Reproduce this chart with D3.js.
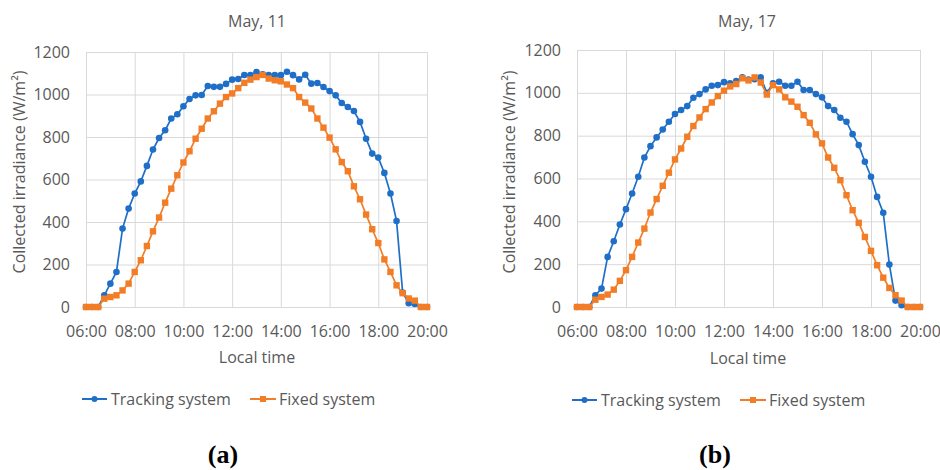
<!DOCTYPE html>
<html>
<head>
<meta charset="utf-8">
<script src="https://cdn.jsdelivr.net/npm/d3@7"></script>
<style>
    body { margin: 0; background: #fff; }
    svg text { font-family: "Open Sans", sans-serif; fill: #595959; }
</style>
</head>
<body>
<svg id="chart" width="940" height="470"></svg>
<script>
// Local time, every 15 minutes
const times = [
    "06:00", "06:15", "06:30", "06:45", "07:00", "07:15", "07:30", "07:45",
    "08:00", "08:15", "08:30", "08:45", "09:00", "09:15", "09:30", "09:45",
    "10:00", "10:15", "10:30", "10:45", "11:00", "11:15", "11:30", "11:45",
    "12:00", "12:15", "12:30", "12:45", "13:00", "13:15", "13:30", "13:45",
    "14:00", "14:15", "14:30", "14:45", "15:00", "15:15", "15:30", "15:45",
    "16:00", "16:15", "16:30", "16:45", "17:00", "17:15", "17:30", "17:45",
    "18:00", "18:15", "18:30", "18:45", "19:00", "19:15", "19:30", "19:45",
    "20:00"
];
const timeTicks = ["06:00", "08:00", "10:00", "12:00", "14:00", "16:00", "18:00", "20:00"];
const yTicks = [0, 200, 400, 600, 800, 1000, 1200];

// May, 11 (W/m2)
const trackingMay11 = [
    0, 0, 0, 55, 110, 165, 369, 463, 534, 591, 664, 741, 795, 832, 887, 907,
    945, 979, 996, 998, 1040, 1036, 1036, 1050, 1070, 1073, 1092, 1092, 1106, 1095, 1091, 1091,
    1091, 1107, 1091, 1071, 1093, 1051, 1054, 1035, 1016, 996, 960, 941, 922, 871, 792, 722,
    703, 631, 534, 405, 68, 18, 14, 0, 0
];
const fixedMay11 = [
    0, 0, 0, 39, 47, 55, 78, 110, 165, 220, 287, 356, 421, 491, 557, 620,
    680, 733, 792, 839, 887, 921, 957, 988, 1005, 1030, 1055, 1070, 1082, 1092, 1075, 1067,
    1062, 1047, 1030, 988, 962, 934, 887, 844, 797, 742, 682, 639, 568, 507, 435, 366,
    301, 224, 165, 102, 65, 40, 30, 0, 0
];

// May, 17 (W/m2)
const trackingMay17 = [
    0, 0, 0, 55, 86, 234, 307, 385, 457, 530, 608, 698, 751, 792, 829, 865,
    901, 920, 938, 977, 994, 1016, 1033, 1036, 1050, 1045, 1055, 1072, 1062, 1064, 1072, 1000,
    1045, 1052, 1033, 1033, 1052, 1013, 1013, 994, 979, 938, 920, 884, 865, 807, 756, 678,
    608, 514, 440, 198, 30, 8, 0, 0, 0
];
const fixedMay17 = [
    0, 0, 0, 34, 47, 58, 81, 122, 172, 234, 301, 366, 441, 504, 566, 627,
    689, 740, 795, 845, 885, 924, 955, 985, 1010, 1030, 1041, 1068, 1058, 1072, 1048, 992,
    1036, 1016, 979, 959, 935, 896, 860, 806, 764, 698, 650, 592, 522, 452, 393, 327,
    262, 195, 137, 89, 55, 30, 0, 0, 0
];

const seriesNames = ["Tracking system", "Fixed system"];
const blue = "#1f6fc8";
const orange = "#f27d26";
const gridColor = "#d9d9d9";

const svg = d3.select("#chart");

function drawPanel(p, tracking, fixed) {
    const x = d3.scalePoint().domain(times).range([p.left, p.right]);
    const y = d3.scaleLinear().domain([0, 1200]).range([p.bottom, p.top]);
    const g = svg.append("g");

    // Horizontal gridlines and y ticks
    g.append("g")
        .attr("transform", `translate(${p.left},0)`)
        .call(d3.axisLeft(y).tickValues(yTicks).tickFormat(d3.format("d"))
            .tickSize(-(p.right - p.left)).tickPadding(16))
        .call(a => a.select(".domain").remove())
        .call(a => a.selectAll("line").attr("stroke", gridColor))
        .call(a => a.selectAll("text").style("font-size", "16px").attr("fill", "#595959"));

    // Vertical gridlines and time ticks
    g.append("g")
        .attr("transform", `translate(0,${p.bottom})`)
        .call(d3.axisBottom(x).tickValues(timeTicks).tickSize(-(p.bottom - p.top)).tickPadding(19))
        .call(a => a.select(".domain").remove())
        .call(a => a.selectAll("line").attr("stroke", gridColor))
        .call(a => a.selectAll("text").style("font-size", "16px").attr("fill", "#595959"));

    const line = d3.line()
        .x((d, i) => x(times[i]))
        .y(d => y(d));

    // Tracking system
    g.append("path")
        .datum(tracking)
        .attr("fill", "none")
        .attr("stroke", blue)
        .attr("stroke-width", 1.7)
        .attr("d", line);
    g.selectAll(".dot")
        .data(tracking)
        .enter()
        .append("circle")
        .attr("cx", (d, i) => x(times[i]))
        .attr("cy", d => y(d))
        .attr("r", 3.3)
        .attr("fill", blue);

    // Fixed system
    g.append("path")
        .datum(fixed)
        .attr("fill", "none")
        .attr("stroke", orange)
        .attr("stroke-width", 1.7)
        .attr("d", line);
    g.selectAll(".sq")
        .data(fixed)
        .enter()
        .append("rect")
        .attr("x", (d, i) => x(times[i]) - 3.2)
        .attr("y", d => y(d) - 3.2)
        .attr("width", 6.4)
        .attr("height", 6.4)
        .attr("fill", orange);

    // Titles
    g.append("text")
        .attr("x", p.titleX)
        .attr("y", 27)
        .attr("text-anchor", "middle")
        .style("font-size", "16px")
        .text(p.title);

    g.append("text")
        .attr("transform", `translate(${p.yLabelX},172) rotate(-90)`)
        .attr("text-anchor", "middle")
        .attr("dominant-baseline", "central")
        .style("font-size", "16px")
        .text("Collected irradiance (W/m²)");

    g.append("text")
        .attr("x", p.xLabelX)
        .attr("y", p.xLabelY)
        .attr("text-anchor", "middle")
        .style("font-size", "16px")
        .text("Local time");

    // Legend
    const lg = g.append("g").attr("transform", `translate(${p.legendX},${p.legendY})`);
    lg.append("line").attr("x1", 0).attr("x2", 25).attr("stroke", blue).attr("stroke-width", 2);
    lg.append("circle").attr("cx", 12.5).attr("r", 3).attr("fill", blue);
    lg.append("text").attr("x", 29).attr("y", 5.5).style("font-size", "16px").text(seriesNames[0]);
    lg.append("line").attr("x1", 168).attr("x2", 194).attr("stroke", orange).attr("stroke-width", 2);
    lg.append("rect").attr("x", 178).attr("y", -3).attr("width", 6).attr("height", 6).attr("fill", orange);
    lg.append("text").attr("x", 197).attr("y", 5.5).style("font-size", "16px").text(seriesNames[1]);

    // Panel letter
    g.append("text")
        .attr("x", p.letterX)
        .attr("y", 463)
        .attr("text-anchor", "middle")
        .style("font-family", "'Liberation Serif', 'Times New Roman', serif")
        .style("font-weight", "bold")
        .style("font-size", "26px")
        .style("fill", "#000")
        .text(p.letter);
}

drawPanel({
    left: 86, right: 427, top: 52, bottom: 307,
    title: "May, 11", titleX: 257, yLabelX: 19, xLabelX: 257, xLabelY: 363,
    legendX: 82, legendY: 399, letter: "(a)", letterX: 223
}, trackingMay11, fixedMay11);

drawPanel({
    left: 577, right: 920, top: 50, bottom: 307,
    title: "May, 17", titleX: 747, yLabelX: 509, xLabelX: 748, xLabelY: 364,
    legendX: 572, legendY: 400, letter: "(b)", letterX: 715
}, trackingMay17, fixedMay17);
</script>
</body>
</html>
